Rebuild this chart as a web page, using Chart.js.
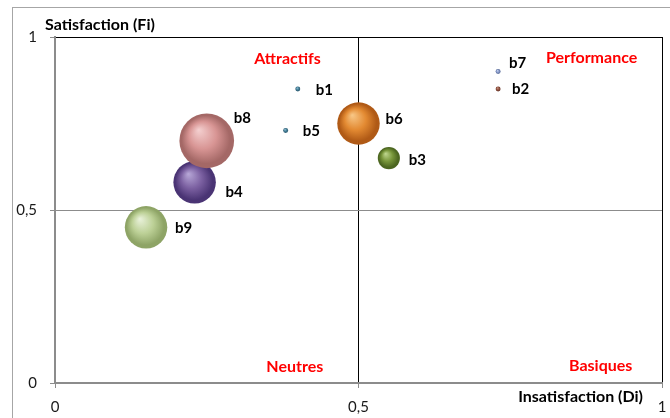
<!DOCTYPE html>
<html>
<head>
<meta charset="utf-8">
<script src="https://cdn.jsdelivr.net/npm/chart.js@4.4.1/dist/chart.umd.min.js"></script>
<style>
  html, body { margin: 0; padding: 0; background: #fff; }
  #wrap { width: 670px; height: 418px; position: relative; }
</style>
</head>
<body>
<div id="wrap"><canvas id="myChart" width="670" height="418"></canvas></div>
<script>
// data
const labels = ["b1", "b2", "b3", "b4", "b5", "b6", "b7", "b8", "b9"];
const insatisfaction = [0.40, 0.73, 0.55, 0.23, 0.38, 0.50, 0.73, 0.25, 0.15]; // Di (x)
const satisfaction = [0.85, 0.85, 0.65, 0.58, 0.73, 0.75, 0.90, 0.70, 0.45];   // Fi (y)
const bubbleSizes = [0.006, 0.006, 0.12, 0.44, 0.006, 0.44, 0.006, 0.73, 0.44];
const xTicks = [0, 0.5, 1];
const yTicks = [0, 0.5, 1];

// sphere colours: [highlight, base, edge]
const sphereColors = [
  ["#9cc4d4", "#4a86a0", "#2e5e74"],
  ["#c89888", "#9a5a48", "#6e3a2c"],
  ["#c0d890", "#78963a", "#4c6620"],
  ["#b8a8d8", "#7a5fa0", "#4a3474"],
  ["#9cc4d4", "#4a86a0", "#2e5e74"],
  ["#f8c888", "#e38a32", "#b05a16"],
  ["#c8d2ec", "#8a9ccc", "#60729e"],
  ["#f4d0d0", "#d89594", "#a46866"],
  ["#eaf2dc", "#bcd096", "#8ea466"]
];

const fontFam = "Lato, 'Open Sans', sans-serif";
const fmt = v => String(v).replace(".", ",");

const points = labels.map((lab, i) => ({
  x: insatisfaction[i],
  y: satisfaction[i],
  r: 32 * Math.sqrt(bubbleSizes[i])
}));

function sphereFill(ctx) {
  const cols = sphereColors[ctx.dataIndex] || sphereColors[0];
  if (!ctx.raw || !ctx.chart.chartArea) return cols[1];
  const xs = ctx.chart.scales.x, ys = ctx.chart.scales.y;
  const cx = xs.getPixelForValue(ctx.raw.x);
  const cy = ys.getPixelForValue(ctx.raw.y);
  const r = ctx.raw.r;
  const g = ctx.chart.ctx.createRadialGradient(cx - r * 0.3, cy - r * 0.4, 0, cx, cy, r);
  g.addColorStop(0, cols[0]);
  g.addColorStop(0.5, cols[1]);
  g.addColorStop(0.88, cols[2]);
  g.addColorStop(1, cols[2]);
  return g;
}

// gray frame around the whole figure
const framePlugin = {
  id: "frame",
  beforeDraw(chart) {
    const c = chart.ctx;
    c.save();
    c.strokeStyle = "#a6a6a6";
    c.lineWidth = 1;
    c.strokeRect(12.5, 7.5, 800, 600);
    c.restore();
  }
};

// bubble labels, quadrant names and axis titles
const labelOffsets = {
  b1: [18, 1], b2: [14, 0], b3: [20, 2], b4: [31, 10], b5: [17, 1],
  b6: [27, -4], b7: [11, -8], b8: [27, -23], b9: [29, 1]
};
const textPlugin = {
  id: "texts",
  afterDatasetsDraw(chart) {
    const c = chart.ctx;
    const meta = chart.getDatasetMeta(0);
    const xs = chart.scales.x, ys = chart.scales.y;
    const area = chart.chartArea;
    c.save();
    c.textBaseline = "middle";
    c.fillStyle = "#000";
    c.font = "bold 15px " + fontFam;
    c.textAlign = "left";
    meta.data.forEach((el, i) => {
      const off = labelOffsets[labels[i]];
      c.fillText(labels[i], el.x + off[0], el.y + off[1]);
    });

    c.fillStyle = "#ff0000";
    c.font = "bold 16px " + fontFam;
    c.textAlign = "center";
    c.fillText("Attractifs", xs.getPixelForValue(0.383), ys.getPixelForValue(0.938));
    c.fillText("Performance", xs.getPixelForValue(0.884), ys.getPixelForValue(0.940));
    c.fillText("Neutres", xs.getPixelForValue(0.395), ys.getPixelForValue(0.046));
    c.fillText("Basiques", xs.getPixelForValue(0.899), ys.getPixelForValue(0.049));

    c.fillStyle = "#000";
    c.font = "bold 16px " + fontFam;
    c.textAlign = "left";
    c.fillText("Satisfaction (Fi)", area.left - 10, area.top - 12);
    c.textAlign = "right";
    c.fillText("Insatisfaction (Di)", area.right - 19, area.bottom + 14);
    c.restore();
  }
};

const lineColor = v => (v === 0.5 || v === 1) ? "#000" : "rgba(0,0,0,0)";
const hLineColor = v => v === 0.5 ? "#8c8c8c" : (v === 1 ? "#000" : "rgba(0,0,0,0)");

const ctx = document.getElementById("myChart").getContext("2d");
const chart = new Chart(ctx, {
  type: "bubble",
  data: {
    datasets: [{
      label: "Attributs",
      data: points,
      backgroundColor: sphereFill,
      borderWidth: 0,
      hoverBorderWidth: 0
    }]
  },
  options: {
    responsive: false,
    animation: false,
    // bubbles would otherwise push the plot area in
    layout: { autoPadding: false, padding: { left: 0, top: 37, right: 8, bottom: 0 } },
    plugins: {
      legend: { display: false },
      tooltip: { enabled: false }
    },
    scales: {
      x: {
        type: "linear",
        position: "bottom",
        min: 0,
        max: 1,
        afterBuildTicks: s => { s.ticks = xTicks.map(v => ({ value: v })); },
        afterFit: s => { s.height = 35; s.paddingLeft = 0; s.paddingRight = 0; },
        ticks: {
          callback: fmt,
          color: "#1a1a1a",
          font: { family: fontFam, size: 15 },
          padding: 10,
          maxRotation: 0
        },
        grid: {
          color: c => lineColor(c.tick ? c.tick.value : null),
          tickColor: "#8c8c8c",
          tickLength: 5,
          lineWidth: 1
        },
        border: { color: "#8c8c8c", width: 2 }
      },
      y: {
        type: "linear",
        min: 0,
        max: 1,
        afterBuildTicks: s => { s.ticks = yTicks.map(v => ({ value: v })); },
        afterFit: s => { s.width = 55; s.paddingTop = 0; s.paddingBottom = 0; },
        ticks: {
          callback: fmt,
          color: "#1a1a1a",
          font: { family: fontFam, size: 15 },
          padding: 13
        },
        grid: {
          color: c => hLineColor(c.tick ? c.tick.value : null),
          tickColor: "#8c8c8c",
          tickLength: 5,
          lineWidth: 1
        },
        border: { color: "#8c8c8c", width: 2 }
      }
    }
  },
  plugins: [framePlugin, textPlugin]
});
</script>
</body>
</html>
